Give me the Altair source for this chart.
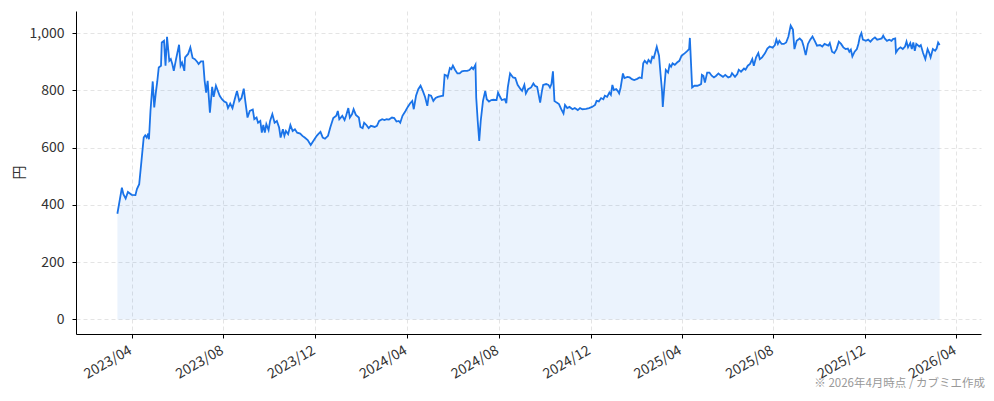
import altair as alt
import pandas as pd

# ---- data (month-day, closing price in yen) ----
md_2023 = ["03-13","03-19","03-21","03-24","03-27","04-01","04-06","04-08","04-11","04-14",
           "04-17","04-19","04-21","04-23","04-24","04-26","04-29","05-01","05-03","05-05",
           "05-07","05-10","05-11","05-14","05-16","05-18","05-21","05-23","05-25","05-27",
           "05-30","06-03","06-05","06-07","06-10","06-11","06-15","06-18","06-21","06-24",
           "06-27","06-29","07-02","07-05","07-07","07-09","07-11","07-14","07-17","07-19",
           "07-22","07-27","07-30","08-02","08-05","08-07","08-10","08-13","08-16","08-19",
           "08-22","08-25","08-28","08-30","09-02","09-05","09-09","09-11","09-14","09-16",
           "09-19","09-21","09-23","09-25","09-27","09-30","10-02","10-05","10-08","10-11",
           "10-14","10-16","10-19","10-21","10-23","10-26","10-29","11-01","11-04","11-07",
           "11-11","11-14","11-17","11-21","11-25","11-28","12-03","12-05","12-08","12-11",
           "12-14","12-18","12-21","12-25","12-29","12-31"]
px_2023 = [369,460,437,422,445,435,434,455,472,553,
           635,643,635,649,629,728,831,740,789,830,
           880,886,967,973,886,987,903,909,892,868,
           909,959,886,897,868,915,927,950,913,909,
           900,892,901,901,833,792,833,722,812,777,
           816,781,769,761,757,738,754,738,769,798,
           763,773,806,763,705,728,733,699,705,687,
           693,652,679,652,682,661,693,717,687,693,
           670,635,664,641,658,647,679,658,664,652,
           649,641,635,626,609,621,641,647,655,635,
           631,641,670,703,711,728]

md_2024 = ["01-02","01-06","01-09","01-11","01-14","01-16","01-19","01-21","01-24","01-28",
           "01-30","02-02","02-04","02-07","02-10","02-13","02-18","02-21","02-24","02-28",
           "03-02","03-05","03-08","03-12","03-15","03-18","03-21","03-23","03-26","03-30",
           "04-02","04-05","04-08","04-10","04-13","04-16","04-19","04-22","04-25","04-28",
           "04-30","05-03","05-06","05-09","05-12","05-16","05-19","05-21","05-24","05-25",
           "05-28","05-30","06-01","06-04","06-07","06-10","06-13","06-16","06-20","06-23",
           "06-26","06-28","07-01","07-02","07-04","07-06","07-08","07-11","07-14","07-16",
           "07-19","07-22","07-25","07-29","07-31","08-02","08-05","08-09","08-11","08-13",
           "08-16","08-20","08-23","08-26","08-30","09-01","09-04","09-06","09-09","09-13",
           "09-16","09-18","09-21","09-25","09-27","09-29","10-03","10-06","10-08","10-10",
           "10-12","10-14","10-17","10-20","10-23","10-26","10-28","10-31","11-03","11-07",
           "11-10","11-14","11-17","11-20","11-25","11-29","12-03","12-07","12-09","12-12",
           "12-15","12-18","12-20","12-23","12-26","12-28","12-30"]
px_2024 = [699,711,696,711,738,705,717,734,714,705,
           672,668,687,679,668,676,672,676,693,699,
           696,699,698,705,703,691,693,687,711,728,
           742,754,763,734,781,804,816,798,777,746,
           784,781,763,773,777,780,781,854,851,845,
           878,874,886,871,859,859,866,868,868,871,
           880,874,889,775,693,623,693,763,798,769,
           761,766,767,766,792,781,766,769,755,810,
           859,845,843,819,804,798,819,789,804,810,
           824,816,812,757,792,819,822,819,810,822,
           866,763,757,752,734,719,749,738,742,734,
           738,731,738,734,735,738,742,749,763,761,
           773,769,781,777,792,784,819]

md_2025 = ["01-01","01-04","01-06","01-08","01-10","01-13","01-15","01-19","01-22","01-25",
           "01-28","02-01","02-04","02-07","02-09","02-11","02-14","02-16","02-19","02-21",
           "02-23","02-25","02-27","03-02","03-04","03-06","03-07","03-09","03-11","03-14",
           "03-16","03-18","03-20","03-23","03-26","03-29","04-01","04-05","04-08","04-11",
           "04-12","04-14","04-15","04-18","04-22","04-25","04-27","04-28","04-30","05-02",
           "05-05","05-08","05-11","05-14","05-17","05-20","05-22","05-26","05-29","06-02",
           "06-05","06-07","06-11","06-14","06-16","06-19","06-23","06-25","06-28","07-01",
           "07-04","07-06","07-09","07-12","07-14","07-17","07-21","07-24","07-27","07-31",
           "08-03","08-05","08-07","08-09","08-12","08-15","08-18","08-21","08-24","08-27",
           "08-29","09-01","09-05","09-08","09-10","09-13","09-16","09-19","09-22","09-25",
           "09-28","10-02","10-05","10-08","10-13","10-15","10-18","10-21","10-24","10-27",
           "10-30","11-02","11-05","11-08","11-10","11-12","11-14","11-17","11-20","11-22",
           "11-24","11-26","11-28","12-02","12-05","12-08","12-11","12-14","12-17","12-20",
           "12-23","12-25","12-27","12-30"]
px_2025 = [801,804,798,789,810,859,843,847,845,839,
           836,840,845,843,894,903,894,906,897,917,
           913,932,952,921,857,798,742,810,871,862,
           889,882,894,889,897,903,921,929,936,944,
           983,868,810,816,816,819,822,854,851,827,
           862,862,851,845,851,859,854,847,854,845,
           848,860,847,857,872,865,876,872,886,892,
           909,886,915,930,909,915,930,946,953,949,
           958,977,962,973,962,962,967,988,1026,1012,
           944,973,981,973,956,923,962,977,988,973,
           956,958,953,962,956,965,935,930,944,970,
           962,950,944,946,935,942,918,935,944,962,
           988,1000,977,973,977,970,979,985,977,979,
           981,991,981,973]

md_2026 = ["01-02","01-05","01-07","01-10","01-11","01-14","01-17","01-20","01-23","01-25",
           "01-27","01-30","02-01","02-03","02-05","02-07","02-11","02-13","02-16","02-19",
           "02-22","02-24","02-26","03-01","03-04","03-06","03-08","03-10"]
px_2026 = [977,973,979,981,932,944,950,944,953,970,
           950,965,944,967,938,962,953,958,930,909,
           944,932,915,944,938,946,967,958]

x_tick_dates = [(2023, 4), (2023, 8), (2023, 12), (2024, 4), (2024, 8), (2024, 12),
                (2025, 4), (2025, 8), (2025, 12), (2026, 4)]
y_ticks = [0, 200, 400, 600, 800, 1000]
y_title = "円"
footnote = "※ 2026年4月時点 / カブミエ作成"

# ---- build table ----
rows = []
for year, mds, pxs in [(2023, md_2023, px_2023), (2024, md_2024, px_2024),
                       (2025, md_2025, px_2025), (2026, md_2026, px_2026)]:
    assert len(mds) == len(pxs), (year, len(mds), len(pxs))
    rows += [{"date": f"{year}-{m}", "price": p} for m, p in zip(mds, pxs)]
df = pd.DataFrame(rows)

FONT = "Noto Sans CJK JP"
BLUE = "#1a73e8"

x_scale = alt.Scale(domain=[alt.DateTime(year=2023, month=1, date=17),
                            alt.DateTime(year=2026, month=5, date=4)])
y_scale = alt.Scale(domain=[-51, 1077], nice=False, zero=False)

x_axis = alt.Axis(values=[alt.DateTime(year=y, month=m, date=1) for y, m in x_tick_dates],
                  format="%Y/%m", labelAngle=-30, labelAlign="right", labelBaseline="top",
                  labelPadding=5, labelOffset=-5, title=None, grid=True, tickSize=4,
                  labelFontSize=14)
y_axis = alt.Axis(values=y_ticks, format=",.0f", title=y_title, grid=True, tickSize=4,
                  labelPadding=8, labelFontSize=14, titleFontSize=14,
                  titleFontWeight="normal",
                  titleX=-57, titleY=161, titleAlign="center", titleBaseline="middle")

base = alt.Chart(df).encode(x=alt.X("date:T", scale=x_scale, axis=x_axis))

area = base.mark_area(color=BLUE, opacity=0.085).encode(
    y=alt.Y("price:Q", scale=y_scale, axis=y_axis),
    y2=alt.datum(0),
)
line = base.mark_line(color=BLUE, strokeWidth=1.8).encode(
    y=alt.Y("price:Q", scale=y_scale, axis=y_axis),
)

note = alt.Chart(pd.DataFrame({"t": [footnote]})).mark_text(
    align="right", baseline="middle", fontSize=11.5, color="#999999", font=FONT
).encode(x=alt.value(909), y=alt.value(373), text="t:N")

chart = alt.layer(area, line, note).properties(
    width=905, height=323,
    autosize=alt.AutoSizeParams(type="none"),
    padding={"left": 68, "top": 3, "right": 5, "bottom": 58},
).configure_view(stroke=None).configure_axis(
    domainColor="black", tickColor="black", domainWidth=1, tickWidth=1,
    labelColor="#333333", titleColor="#333333", labelFont=FONT, titleFont=FONT,
    gridColor="#dddddd", gridDash=[4, 3], gridWidth=0.8,
)

chart.save("out.html", embed_options={"renderer": "svg", "actions": False})
